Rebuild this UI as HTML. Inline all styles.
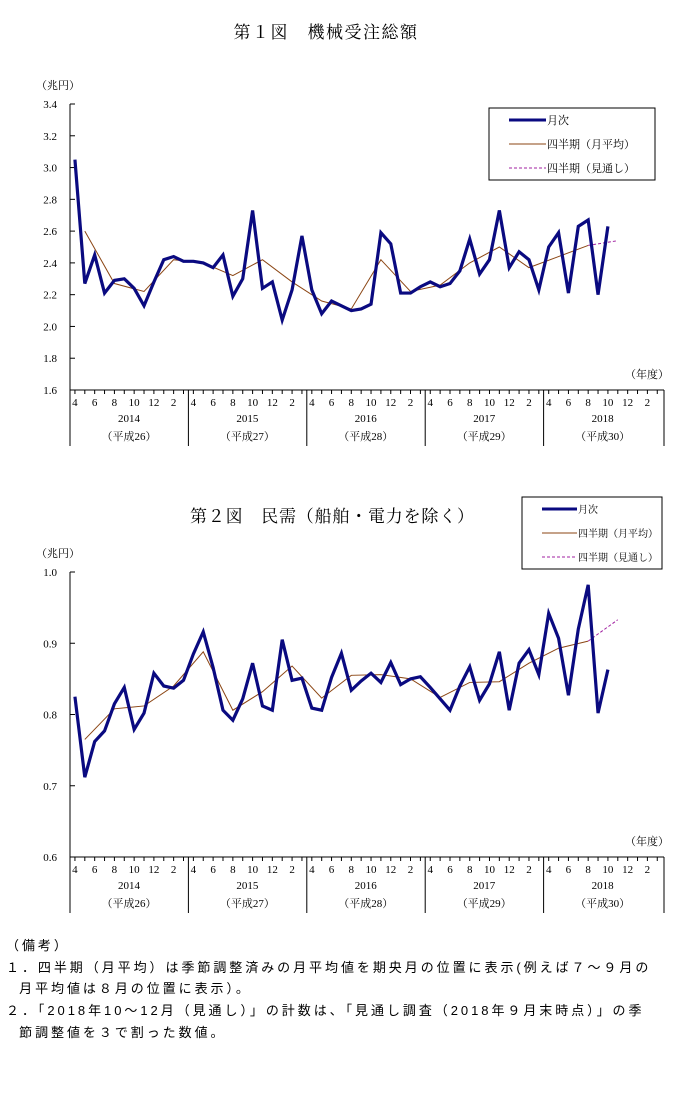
<!DOCTYPE html>
<html><head><meta charset="utf-8"><style>
body{margin:0;background:#fff;width:685px;height:1099px;overflow:hidden;font-family:"Liberation Sans","Noto Sans CJK JP",sans-serif}
svg text{font-family:"Liberation Serif","Noto Serif CJK SC","Noto Sans CJK JP",serif;fill:#000}
.n{position:absolute;left:6px;font-size:13px;line-height:21.7px;letter-spacing:2.95px;white-space:nowrap;font-family:"Liberation Sans","Noto Sans CJK JP",sans-serif}
</style></head><body>
<svg id="s" width="685" height="1099" style="position:absolute;left:0;top:0"></svg>
<div class="n" style="top:935px">（備考）<br>１．四半期（月平均）は季節調整済みの月平均値を期央月の位置に表示(例えば７～９月の<br>&nbsp;&nbsp;月平均値は８月の位置に表示）。<br>２．「2018年10～12月（見通し）」の計数は、「見通し調査（2018年９月末時点）」の季<br>&nbsp;&nbsp;節調整値を３で割った数値。</div>
<script>
var s='';
function X(i){return 70+9.87*(i+0.5);}
function chart(o){
 var Y=function(v){return o.y0+(o.max-v)/(o.max-o.min)*(o.y1-o.y0);};
 s+='<line x1="70" y1="'+o.y0+'" x2="70" y2="'+(o.y1+56)+'" stroke="#000"/>';
 s+='<line x1="70" y1="'+o.y1+'" x2="664" y2="'+o.y1+'" stroke="#000"/>';
 o.ticks.forEach(function(t){var y=Y(t);s+='<line x1="70" y1="'+y+'" x2="75" y2="'+y+'" stroke="#000"/><text x="57" y="'+(y+4)+'" font-size="11" text-anchor="end">'+t.toFixed(o.dec)+'</text>';});
 for(var i=0;i<60;i++){s+='<line x1="'+X(i)+'" y1="'+o.y1+'" x2="'+X(i)+'" y2="'+(o.y1+4)+'" stroke="#000"/>';}
 var lab=[4,6,8,10,12,2];
 for(var yr=0;yr<5;yr++){var bx=70+118.4*yr;
  if(yr>0)s+='<line x1="'+bx+'" y1="'+o.y1+'" x2="'+bx+'" y2="'+(o.y1+56)+'" stroke="#000"/>';
  for(var k=0;k<6;k++)s+='<text x="'+X(yr*12+k*2)+'" y="'+(o.y1+16)+'" font-size="11" text-anchor="middle">'+lab[k]+'</text>';
  s+='<text x="'+(bx+59)+'" y="'+(o.y1+32)+'" font-size="11" text-anchor="middle">'+(2014+yr)+'</text>';
  s+='<text x="'+(bx+59)+'" y="'+(o.y1+50)+'" font-size="11" text-anchor="middle">（平成'+(26+yr)+'）</text>';}
 s+='<line x1="664" y1="'+o.y1+'" x2="664" y2="'+(o.y1+56)+'" stroke="#000"/>';
 s+='<text x="625" y="'+(o.y1-12)+'" font-size="11">（年度）</text>';
 s+='<text x="36" y="'+(o.y0-15)+'" font-size="11">（兆円）</text>';
 var q=o.q.map(function(v,j){return X(1+3*j)+','+Y(v);}).join(' ');
 s+='<polyline points="'+q+'" fill="none" stroke="#8B4513" stroke-width="1"/>';
 s+='<line x1="'+X(52)+'" y1="'+Y(o.q[17])+'" x2="'+X(55)+'" y2="'+Y(o.f)+'" stroke="#a020a0" stroke-dasharray="3,2"/>';
 var m=o.m.map(function(v,j){return X(j)+','+Y(v);}).join(' ');
 s+='<polyline points="'+m+'" fill="none" stroke="#0a0a80" stroke-width="3.2"/>';
 var lx=o.lx,ly=o.ly,fs=o.fs;
 s+='<rect x="'+lx+'" y="'+ly+'" width="'+o.lw+'" height="72" fill="#fff" stroke="#000"/>';
 s+='<line x1="'+(lx+20)+'" y1="'+(ly+12)+'" x2="'+(lx+o.ll)+'" y2="'+(ly+12)+'" stroke="#0a0a80" stroke-width="3"/><text x="'+(lx+o.ll+1)+'" y="'+(ly+16)+'" font-size="'+fs+'">月次</text>';
 s+='<line x1="'+(lx+20)+'" y1="'+(ly+36)+'" x2="'+(lx+o.ll)+'" y2="'+(ly+36)+'" stroke="#8B4513"/><text x="'+(lx+o.ll+1)+'" y="'+(ly+40)+'" font-size="'+fs+'">四半期（月平均）</text>';
 s+='<line x1="'+(lx+20)+'" y1="'+(ly+60)+'" x2="'+(lx+o.ll)+'" y2="'+(ly+60)+'" stroke="#a020a0" stroke-dasharray="3,2"/><text x="'+(lx+o.ll+1)+'" y="'+(ly+64)+'" font-size="'+fs+'">四半期（見通し）</text>';
}
s+='<text x="326" y="38" font-size="17" letter-spacing="1.5" text-anchor="middle">第１図　機械受注総額</text>';
s+='<text x="190" y="522" font-size="17" letter-spacing="0.8">第２図　民需（船舶・電力を除く）</text>';
chart({y0:104,y1:390,min:1.6,max:3.4,dec:1,ticks:[3.4,3.2,3.0,2.8,2.6,2.4,2.2,2.0,1.8,1.6],
m:[3.05,2.27,2.45,2.21,2.29,2.30,2.24,2.13,2.28,2.42,2.44,2.41,2.41,2.40,2.37,2.45,2.19,2.30,2.73,2.24,2.28,2.04,2.23,2.57,2.23,2.08,2.16,2.13,2.10,2.11,2.14,2.59,2.52,2.21,2.21,2.25,2.28,2.25,2.27,2.35,2.55,2.33,2.42,2.73,2.37,2.47,2.42,2.23,2.50,2.59,2.21,2.63,2.67,2.20,2.63],
q:[2.60,2.27,2.22,2.42,2.40,2.32,2.42,2.28,2.16,2.11,2.42,2.22,2.26,2.40,2.50,2.37,2.44,2.51],f:2.54,lx:489,ly:108,lw:166,ll:57,fs:11});
chart({y0:572,y1:857,min:0.6,max:1.0,dec:1,ticks:[1.0,0.9,0.8,0.7,0.6],
m:[0.825,0.712,0.762,0.777,0.815,0.838,0.779,0.802,0.858,0.840,0.837,0.848,0.885,0.916,0.866,0.806,0.792,0.822,0.872,0.812,0.806,0.905,0.848,0.851,0.809,0.806,0.852,0.886,0.834,0.847,0.858,0.845,0.873,0.842,0.850,0.853,0.838,0.822,0.806,0.840,0.867,0.820,0.843,0.888,0.806,0.872,0.891,0.856,0.942,0.907,0.827,0.920,0.982,0.802,0.863],
q:[0.765,0.808,0.812,0.840,0.888,0.806,0.832,0.868,0.823,0.855,0.856,0.850,0.824,0.845,0.846,0.872,0.893,0.903],f:0.933,lx:522,ly:497,lw:140,ll:55,fs:10});
document.getElementById('s').innerHTML=s;
</script>
</body></html>
